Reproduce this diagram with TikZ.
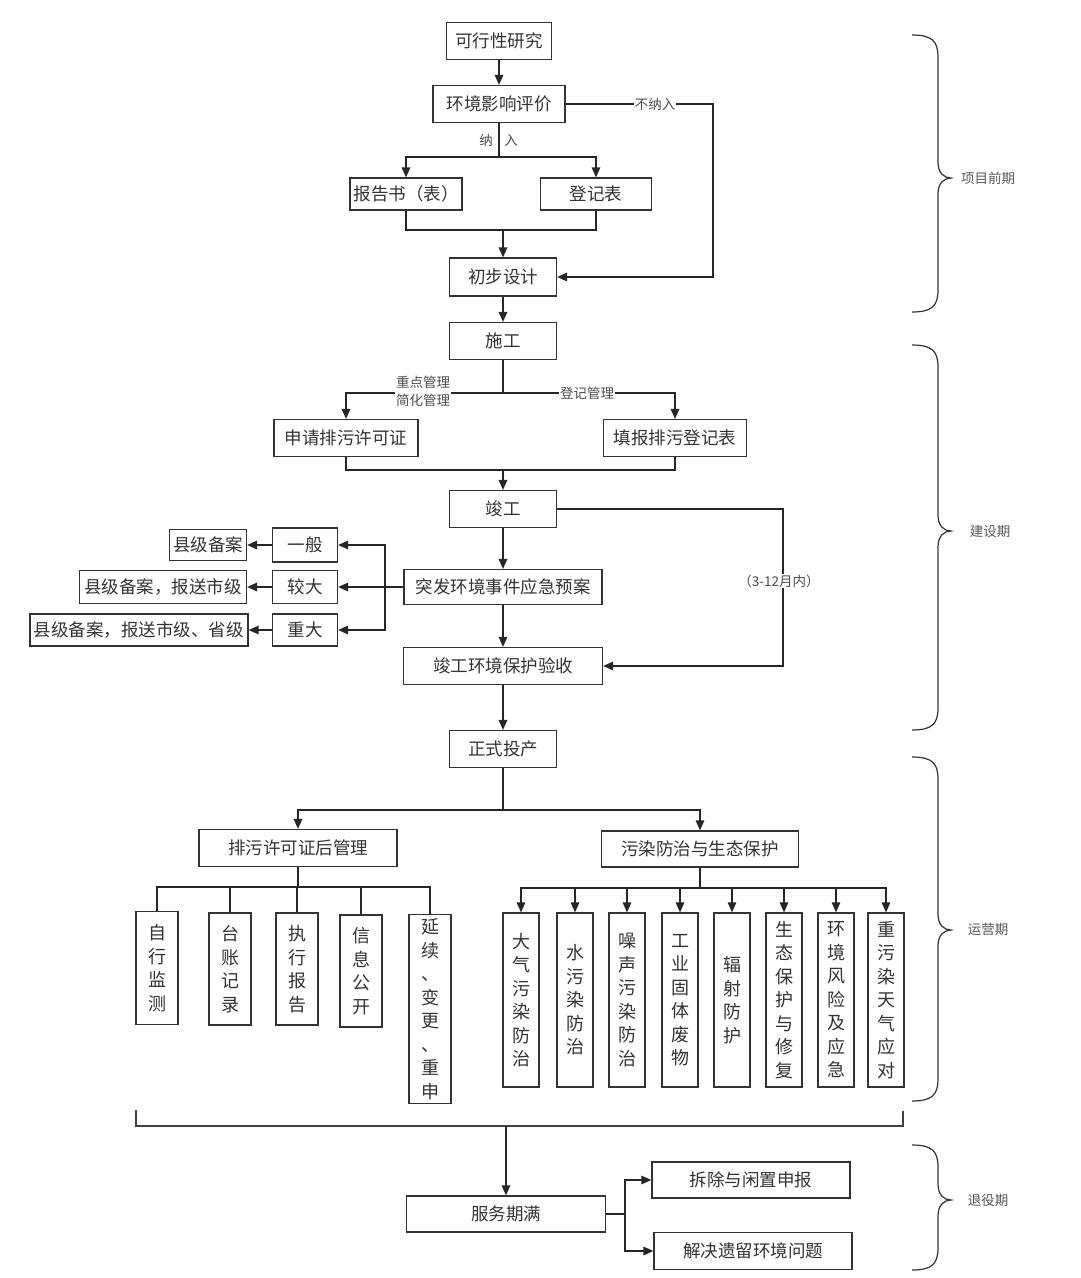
\documentclass[tikz,border=0pt]{standalone}
\usepackage{fontspec}
\setmainfont{Noto Sans CJK SC}
\usetikzlibrary{arrows.meta}
\newcommand\phasebrace[3]{%
  \draw[bracestyle] (912,#1) .. controls (932,#1) and (938,{#1+6}) .. (938,{#1+22})
    -- (938,{#2-16}) .. controls (938,{#2-5}) and (944,#2) .. (951,#2)
    .. controls (944,#2) and (938,{#2+5}) .. (938,{#2+16})
    -- (938,{#3-22}) .. controls (938,{#3-6}) and (932,#3) .. (912,#3);}
\begin{document}
\begin{tikzpicture}[x=1pt,y=-1pt,
  box/.style={draw=black!80, line width=1.2pt, inner sep=0pt, text=black!80,
    font=\fontsize{17.5}{20}\selectfont},
  vbox/.style={box, align=center, font=\fontsize{18}{23.5}\selectfont},
  arr/.style={line width=1.4pt, draw=black!85, -{Triangle[length=10pt,width=8.5pt]}},
  ln/.style={line width=1.4pt, draw=black!85},
  lbl/.style={font=\fontsize{13.5}{17}\selectfont, text=black!70, inner sep=1pt},
  lblw/.style={lbl, fill=white},
  phase/.style={font=\fontsize{13.5}{16}\selectfont, text=black!65},
  bracestyle/.style={line width=1.2pt, draw=black!80}]
\fill[white] (0,0) rectangle (1080,1278);
\useasboundingbox (0,0) rectangle (1080,1278);

% nodes
\node[box, minimum width=105pt, minimum height=37pt] (kx) at (499,41) {可行性研究};
\node[box, minimum width=132pt, minimum height=37pt] (hj) at (499,104) {环境影响评价};
\node[box, minimum width=112pt, minimum height=32pt] (bg) at (406,194) {报告书（表）};
\node[box, minimum width=111pt, minimum height=32pt] (dj) at (596,194) {登记表};
\node[box, minimum width=107pt, minimum height=38pt] (cb) at (503,277) {初步设计};
\node[box, minimum width=107pt, minimum height=37pt] (sg) at (503,341) {施工};
\node[box, minimum width=144pt, minimum height=37pt] (sq) at (346,438) {申请排污许可证};
\node[box, minimum width=143pt, minimum height=37pt] (tb) at (675,438) {填报排污登记表};
\node[box, minimum width=107pt, minimum height=37pt] (jg) at (503,509) {竣工};
\node[box, minimum width=198pt, minimum height=35pt] (tf) at (503,587) {突发环境事件应急预案};
\node[box, minimum width=65pt, minimum height=34pt] (yb) at (305,545) {一般};
\node[box, minimum width=65pt, minimum height=33pt] (jd) at (305,587) {较大};
\node[box, minimum width=65pt, minimum height=32pt] (zd) at (305,630) {重大};
\node[box, minimum width=77pt, minimum height=31pt] (x1) at (208,545) {县级备案};
\node[box, minimum width=167pt, minimum height=33pt] (x2) at (163,587) {县级备案，报送市级};
\node[box, minimum width=218pt, minimum height=32pt] (x3) at (139,630) {县级备案，报送市级、省级};
\node[box, minimum width=199pt, minimum height=37pt] (ys) at (503,666) {竣工环境保护验收};
\node[box, minimum width=107pt, minimum height=37pt] (zs) at (503,749) {正式投产};
\node[box, minimum width=198pt, minimum height=37pt] (pw) at (298,848) {排污许可证后管理};
\node[box, minimum width=197pt, minimum height=36pt] (wr) at (700,849) {污染防治与生态保护};

\node[vbox, minimum width=42pt, minimum height=113pt] (a1) at (157,968) {自\\行\\监\\测};
\node[vbox, minimum width=42pt, minimum height=112pt] (a2) at (230,969) {台\\账\\记\\录};
\node[vbox, minimum width=42pt, minimum height=112pt] (a3) at (297,969) {执\\行\\报\\告};
\node[vbox, minimum width=42pt, minimum height=112pt] (a4) at (361,971) {信\\息\\公\\开};
\node[vbox, minimum width=42pt, minimum height=189pt] (a5) at (430,1009) {延\\续\\、\\变\\更\\、\\重\\申};

\node[vbox, minimum width=36pt, minimum height=174pt] (b1) at (521,1000) {大\\气\\污\\染\\防\\治};
\node[vbox, minimum width=36pt, minimum height=174pt] (b2) at (575,1000) {水\\污\\染\\防\\治};
\node[vbox, minimum width=36pt, minimum height=174pt] (b3) at (627,1000) {噪\\声\\污\\染\\防\\治};
\node[vbox, minimum width=36pt, minimum height=174pt] (b4) at (680,1000) {工\\业\\固\\体\\废\\物};
\node[vbox, minimum width=36pt, minimum height=174pt] (b5) at (732,1000) {辐\\射\\防\\护};
\node[vbox, minimum width=36pt, minimum height=174pt] (b6) at (784,1000) {生\\态\\保\\护\\与\\修\\复};
\node[vbox, minimum width=36pt, minimum height=174pt] (b7) at (836,1000) {环\\境\\风\\险\\及\\应\\急};
\node[vbox, minimum width=36pt, minimum height=174pt] (b8) at (886,1000) {重\\污\\染\\天\\气\\应\\对};

\node[box, minimum width=199pt, minimum height=36pt] (fw) at (506,1214) {服务期满};
\node[box, minimum width=198pt, minimum height=36pt] (cc) at (751,1180) {拆除与闲置申报};
\node[box, minimum width=198pt, minimum height=37pt] (jj) at (753,1251) {解决遗留环境问题};

% connectors: top
\draw[arr] (kx) -- (hj);
\coordinate (r1) at (713,104);
\draw[arr] (hj.east) -- (r1) |- (cb.east);
\node[lblw] (bnr) at (655,104) {不纳入};
\coordinate (j1) at (499,157);
\draw[ln] (hj.south) -- (j1);
\draw[arr] (j1) -| (bg.north);
\draw[arr] (j1) -| (dj.north);
\node[lbl] (nr1) at (486,140) {纳};
\node[lbl] (nr2) at (511,140) {入};
\coordinate (j2) at (503,230);
\draw[ln] (bg.south) |- (j2) -| (dj.south);
\draw[arr] (j2) -- (cb.north);
\draw[arr] (cb) -- (sg);

% construction
\coordinate (j3) at (503,393);
\draw[ln] (sg.south) -- (j3);
\draw[arr] (j3) -| (sq.north);
\draw[arr] (j3) -| (tb.north);
\node[lblw, align=center, font=\fontsize{13.5}{18}\selectfont] (zdgl) at (423,391) {重点管理\\简化管理};
\node[lblw] (djgl) at (587,393) {登记管理};
\coordinate (j4) at (503,470);
\draw[ln] (sq.south) |- (j4) -| (tb.south);
\draw[arr] (j4) -- (jg.north);
\coordinate (r2) at (783,509);
\draw[arr] (jg.east) -- (r2) |- (ys.east);
\node[lblw] (yn) at (779,581) {（3-12月内）};
\draw[arr] (jg) -- (tf);
\draw[arr] (tf) -- (ys);
\draw[arr] (ys) -- (zs);
\coordinate (j5) at (385,587);
\draw[ln] (tf.west) -- (j5);
\draw[arr] (j5) |- (yb.east);
\draw[arr] (j5) -- (jd.east);
\draw[arr] (j5) |- (zd.east);
\draw[arr] (yb) -- (x1);
\draw[arr] (jd) -- (x2);
\draw[arr] (zd) -- (x3);

% operation
\coordinate (j6) at (503,810);
\draw[ln] (zs.south) -- (j6);
\draw[arr] (j6) -| (pw.north);
\draw[arr] (j6) -| (wr.north);
\coordinate (j7) at (298,887);
\draw[ln] (pw.south) -- (j7);
\foreach \n in {a1,a2,a3,a4,a5} \draw[ln, line width=1.2pt] (j7) -| (\n.north);
\coordinate (j8) at (700,888);
\draw[ln] (wr.south) -- (j8);
\foreach \n in {b1,b2,b3,b4,b5,b6,b7,b8} \draw[arr] (j8) -| (\n.north);

% bottom bracket and decommissioning
\coordinate (bl) at (136,1110);
\coordinate (bl2) at (136,1126);
\coordinate (br2) at (903,1126);
\coordinate (br) at (903,1111);
\draw[ln, line width=1.2pt, draw=black!75] (bl) -- (bl2) -- (br2) -- (br);
\coordinate (j9) at (506,1126);
\draw[arr] (j9) -- (fw.north);
\coordinate (j10) at (625,1214);
\draw[ln] (fw.east) -- (j10);
\draw[arr] (j10) |- (cc.west);
\draw[arr] (j10) |- (jj.west);

% phase braces
\phasebrace{35}{178}{312}
\phasebrace{345}{531}{730}
\phasebrace{757}{930}{1101}
\phasebrace{1145}{1200}{1270}
\node[phase] (p1) at (988,178) {项目前期};
\node[phase] (p2) at (990,531) {建设期};
\node[phase] (p3) at (988,929) {运营期};
\node[phase] (p4) at (988,1200) {退役期};
\end{tikzpicture}
\end{document}
